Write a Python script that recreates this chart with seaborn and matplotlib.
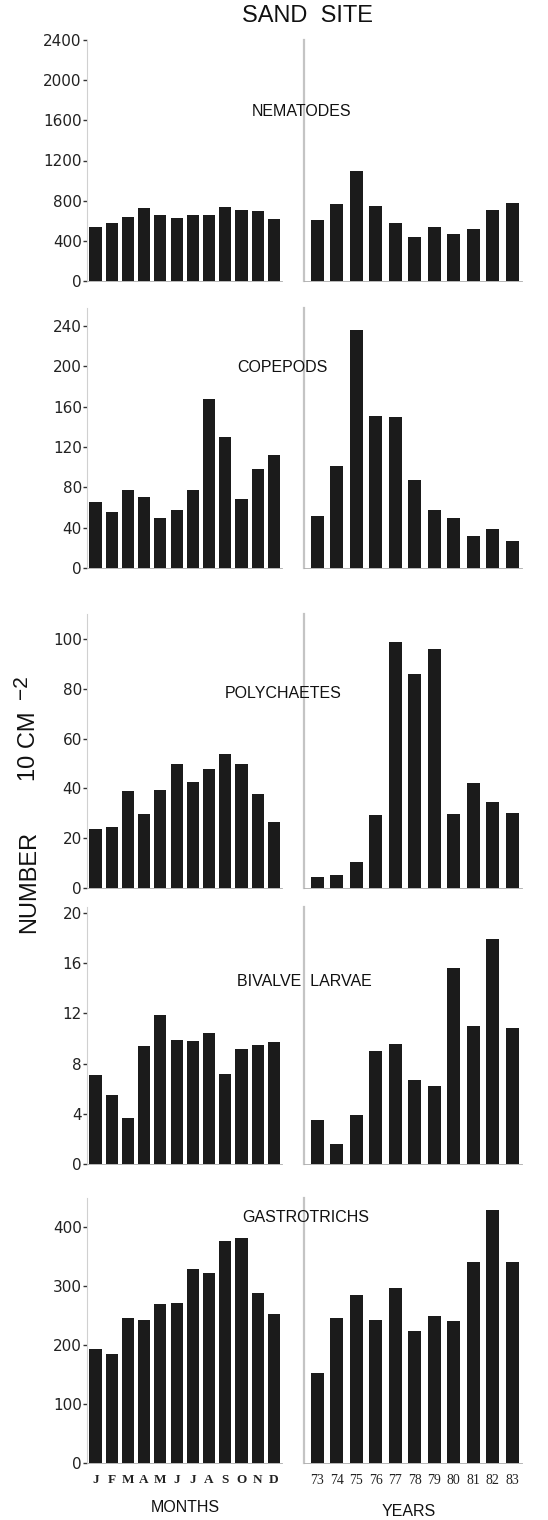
import matplotlib
matplotlib.use("Agg")
import matplotlib.pyplot as plt
import seaborn as sns
import pandas as pd

# ---------------- data ----------------
months = ["Jan", "Feb", "Mar", "Apr", "May", "Jun", "Jul", "Aug", "Sep", "Oct", "Nov", "Dec"]
month_labels = ["J", "F", "M", "A", "M", "J", "J", "A", "S", "O", "N", "D"]
years = ["73", "74", "75", "76", "77", "78", "79", "80", "81", "82", "83"]

nematodes_months = [535, 580, 637, 725, 658, 630, 658, 658, 735, 712, 695, 620]
nematodes_years = [603, 763, 1092, 749, 573, 437, 542, 471, 519, 708, 773]

copepods_months = [65, 56, 77, 70, 50, 58, 77, 168, 130, 68, 98, 112]
copepods_years = [52, 101, 236, 151, 150, 87, 58, 50, 32, 39, 27]

polychaetes_months = [23.6, 24.5, 38.9, 29.9, 39.5, 49.9, 42.6, 47.6, 54, 49.6, 37.8, 26.5]
polychaetes_years = [4.5, 5.1, 10.5, 29.2, 98.6, 86, 96, 29.7, 42.3, 34.7, 30.1]

bivalve_months = [7.1, 5.5, 3.7, 9.4, 11.9, 9.9, 9.8, 10.4, 7.2, 9.2, 9.5, 9.7]
bivalve_years = [3.5, 1.6, 3.9, 9.0, 9.6, 6.7, 6.2, 15.6, 11.0, 17.9, 10.8]

gastro_months = [193, 185, 245, 242, 269, 271, 328, 322, 376, 382, 288, 253]
gastro_years = [152, 245, 284, 243, 297, 224, 249, 241, 341, 429, 340]

taxa = ["NEMATODES", "COPEPODS", "POLYCHAETES", "BIVALVE  LARVAE", "GASTROTRICHS"]
yticks_list = [
    [0, 400, 800, 1200, 1600, 2000, 2400],
    [0, 40, 80, 120, 160, 200, 240],
    [0, 20, 40, 60, 80, 100],
    [0, 4, 8, 12, 16, 20],
    [0, 100, 200, 300, 400],
]
month_series = [nematodes_months, copepods_months, polychaetes_months, bivalve_months, gastro_months]
year_series = [nematodes_years, copepods_years, polychaetes_years, bivalve_years, gastro_years]

# ---------------- layout (pixels) ----------------
W, H = 548, 1520
# zero pixel, reference tick value, reference tick pixel, ylim top
vlayout = [
    (281, 2400, 40, 2400),
    (568, 240, 326, 258),
    (888, 100, 639, 110),
    (1164, 20, 913, 20.5),
    (1463, 400, 1227, 450),
]
title_pos = [(302, 111), (282, 367), (283, 694), (304, 982), (306, 1218)]

BAR = "#1b1b1b"

sns.set_theme(style="white")
plt.rcParams['font.family'] = ['Liberation Sans', 'DejaVu Sans']

fig = plt.figure(figsize=(W / 100, H / 100), dpi=100)


def fx(px):
    return px / W


def fy(py):
    return 1 - py / H


for i in range(5):
    zero, tv, tp, ytop = vlayout[i]
    scale = (zero - tp) / tv
    top_px = zero - ytop * scale
    bottom = fy(zero)
    height = (zero - top_px) / H

    # left: months
    axl = fig.add_axes([fx(87.4), bottom, fx(282) - fx(87.4), height])
    dfm = pd.DataFrame({"cat": months, "val": month_series[i]})
    sns.barplot(data=dfm, x="cat", y="val", order=months, color=BAR, saturation=1,
                width=0.75, ax=axl, edgecolor="none")
    axl.set_xlim(-0.5, 11.5)
    axl.set_ylim(0, ytop)
    axl.set_yticks(yticks_list[i])
    axl.set_yticklabels([str(v) for v in yticks_list[i]], fontsize=11,
                        family="DejaVu Sans", color="#222222")
    axl.tick_params(axis="y", left=True, length=3, width=1, pad=1, color="#333333")
    axl.set_xlabel("")
    axl.set_ylabel("")
    for s in ["top", "right"]:
        axl.spines[s].set_visible(False)
    axl.spines["left"].set_color("#d0d0d0")
    axl.spines["left"].set_linewidth(0.8)
    axl.spines["bottom"].set_color("#aaaaaa")
    axl.spines["bottom"].set_linewidth(0.6)

    # right: years
    axr = fig.add_axes([fx(304), bottom, fx(522) - fx(304), height])
    dfy = pd.DataFrame({"cat": years, "val": year_series[i]})
    sns.barplot(data=dfy, x="cat", y="val", order=years, color=BAR, saturation=1,
                width=0.68, ax=axr, edgecolor="none")
    axr.set_xlim(-0.68, 10.5)
    axr.set_ylim(0, ytop)
    axr.set_yticks([])
    axr.set_xlabel("")
    axr.set_ylabel("")
    for s in ["top", "right"]:
        axr.spines[s].set_visible(False)
    axr.spines["left"].set_color("#c4c4c4")
    axr.spines["left"].set_linewidth(1.6)
    axr.spines["bottom"].set_color("#aaaaaa")
    axr.spines["bottom"].set_linewidth(0.6)

    if i == 4:
        axl.set_xticks(range(12))
        axl.set_xticklabels(month_labels, fontsize=9.5, family="Liberation Serif",
                            fontweight="bold", color="#222222")
        axr.set_xticks(range(11))
        axr.set_xticklabels(years, fontsize=10, family="Liberation Serif", color="#222222")
        for ax in (axl, axr):
            ax.tick_params(axis="x", length=0, pad=8)
    else:
        axl.set_xticks([])
        axr.set_xticks([])

    tx, ty = title_pos[i]
    fig.text(fx(tx), fy(ty), taxa[i], ha="center", va="center", fontsize=11.5, color="#111111")

# titles and axis labels
fig.text(fx(307), fy(16), "SAND  SITE", ha="center", va="center", fontsize=17, color="#111111")
fig.text(fx(185), fy(1508), "MONTHS", ha="center", va="center", fontsize=11.5, color="#111111")
fig.text(fx(409), fy(1512), "YEARS", ha="center", va="center", fontsize=11.5, color="#111111")

fig.text(fx(29), fy(882), "NUMBER", ha="center", va="center", rotation=90, fontsize=17, color="#111111")
fig.text(fx(29), fy(746), "10 CM", ha="center", va="center", rotation=90, fontsize=17, color="#111111")
fig.text(fx(21), fy(687), "\u22122", ha="center", va="center", rotation=90, fontsize=15, color="#111111")

fig.savefig("out.png", dpi=100, facecolor="white")
